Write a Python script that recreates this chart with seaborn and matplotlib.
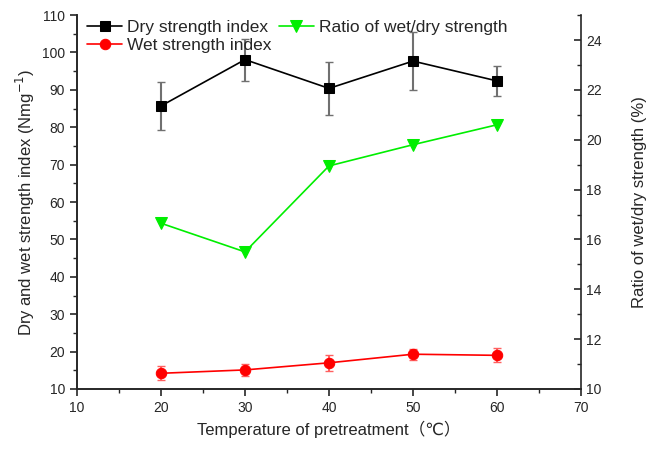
import numpy as np
import pandas as pd
import seaborn as sns
import matplotlib.pyplot as plt
from matplotlib.ticker import MultipleLocator

# data
temp = [20, 30, 40, 50, 60]
dry = [85.7, 98.1, 90.4, 97.7, 92.4]
dry_err = [6.4, 5.6, 7.0, 7.8, 4.0]
wet = [14.2, 15.1, 17.0, 19.3, 19.0]
wet_err = [1.9, 1.6, 2.2, 1.5, 1.9]
ratio = [16.65, 15.5, 18.95, 19.8, 20.6]

df = pd.DataFrame({"temp": temp, "dry": dry, "wet": wet, "ratio": ratio})

sns.set_style("ticks")
plt.rcParams["font.family"] = ["Liberation Sans", "DejaVu Sans", "Noto Sans CJK SC"]

fig = plt.figure(figsize=(6.47, 4.51), dpi=100)
ax = fig.add_axes([0.119, 0.1375, 0.779, 0.829])
ax2 = ax.twinx()

# error bars first, then the lines on top
ax.errorbar(temp, dry, yerr=dry_err, fmt="none", ecolor="#707070", elinewidth=1.5, capsize=3, capthick=1, zorder=1)
ax.errorbar(temp, wet, yerr=wet_err, fmt="none", ecolor="#ff6060", elinewidth=1.5, capsize=3, capthick=1, zorder=1)

sns.lineplot(data=df, x="temp", y="dry", ax=ax, color="black", marker="s", markersize=6.5,
             markeredgecolor="black", linewidth=1.2, label="Dry strength index", legend=False, zorder=3)
sns.lineplot(data=df, x="temp", y="wet", ax=ax, color="red", marker="o", markersize=7.5,
             markeredgecolor="red", linewidth=1.2, label="Wet strength index", legend=False, zorder=3)
sns.lineplot(data=df, x="temp", y="ratio", ax=ax2, color="#00ee00", marker="v", markersize=8,
             markeredgecolor="#00ee00", linewidth=1.2, label="Ratio of wet/dry strength", legend=False)

ax.set_xlim(10, 70)
ax.set_ylim(10, 110)
ax2.set_ylim(10, 25)
ax.xaxis.set_major_locator(MultipleLocator(10))
ax.xaxis.set_minor_locator(MultipleLocator(5))
ax.yaxis.set_major_locator(MultipleLocator(10))
ax.yaxis.set_minor_locator(MultipleLocator(5))
ax2.yaxis.set_major_locator(MultipleLocator(2))
ax2.yaxis.set_minor_locator(MultipleLocator(1))

for a in (ax, ax2):
    a.spines["top"].set_visible(False)
    for s in a.spines.values():
        s.set_linewidth(1.2)
ax.spines["right"].set_visible(False)

ax.tick_params(which="major", direction="out", length=5, width=1.2, labelsize=10)
ax.tick_params(which="minor", direction="out", length=3, width=1.0)
ax2.tick_params(which="major", direction="in", length=5, width=1.2, labelsize=10)
ax2.tick_params(which="minor", direction="in", length=3, width=1.0)

ax.set_xlabel("Temperature of pretreatment（℃）", fontsize=12)
ax.set_ylabel("Dry and wet strength index (Nmg$^{-1}$)", fontsize=12)
ax2.set_ylabel("Ratio of wet/dry strength (%)", fontsize=12, labelpad=22)

h1, l1 = ax.get_legend_handles_labels()
h2, l2 = ax2.get_legend_handles_labels()
ax.legend(h1 + h2, l1 + l2, ncol=2, loc="upper left", bbox_to_anchor=(0.0, 1.015),
          frameon=False, fontsize=12.5, handlelength=2.0, handletextpad=0.3,
          columnspacing=0.4, labelspacing=0.15, borderaxespad=0.2)

fig.savefig("out.png", dpi=100)
